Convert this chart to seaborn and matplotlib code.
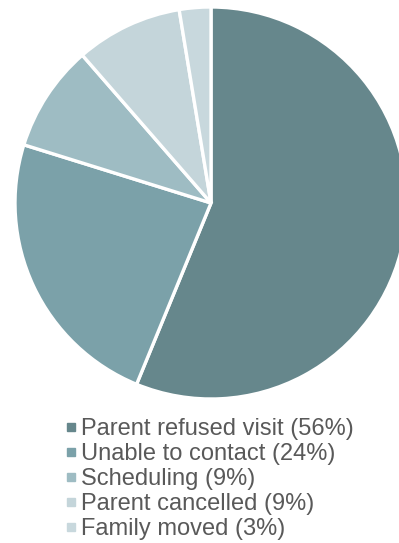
"""
plot.py
----------------------------------
Pie chart of reasons a home visit did not happen, with a
square-marker legend stacked under the pie.
"""

import matplotlib
matplotlib.use("Agg")
import matplotlib.pyplot as plt
from matplotlib.lines import Line2D
import seaborn as sns

# --------------------------------------------------------------------------
# Data (shares in percent)
# --------------------------------------------------------------------------
REASONS = ["Parent refused visit", "Unable to contact", "Scheduling",
           "Parent cancelled", "Family moved"]
SHARES = [56.2, 23.6, 8.8, 8.8, 2.6]
COLORS = ["#66878c", "#7ba1a9", "#9ebcc3", "#c4d5da", "#c8d8dd"]

TEXT_COLOR = "#595959"
W, H = 399, 543

sns.set_style("white")
plt.rcParams["font.family"] = ["Liberation Sans", "DejaVu Sans"]

fig = plt.figure(figsize=(W / 100, H / 100), dpi=100)

# pie centre ~(211, 203) px, radius ~196 px
cx, cy, r = 211, 203, 196
ax = fig.add_axes([(cx - r) / W, (H - cy - r) / H, 2 * r / W, 2 * r / H])
ax.pie(SHARES, colors=COLORS, startangle=90, counterclock=False,
       radius=1.0,
       wedgeprops={"edgecolor": "white", "linewidth": 2.4})
ax.set_xlim(-1, 1)
ax.set_ylim(-1, 1)
ax.set_aspect("equal")
ax.axis("off")

# --- Legend ---
handles = [Line2D([], [], linestyle="none", marker="s", markersize=5.8,
                  markerfacecolor=c, markeredgecolor=c) for c in COLORS]
labels = [f"{name} ({round(pct)}%)" for name, pct in zip(REASONS, SHARES)]
leg = fig.legend(handles, labels, loc="upper left",
                 bbox_to_anchor=(64 / W, 1 - 418 / H),
                 frameon=False, fontsize=17, labelspacing=0.13,
                 handlelength=0.6, handletextpad=0.14, borderpad=0,
                 borderaxespad=0)
for t in leg.get_texts():
    t.set_color(TEXT_COLOR)

fig.savefig("out.png", dpi=100)
